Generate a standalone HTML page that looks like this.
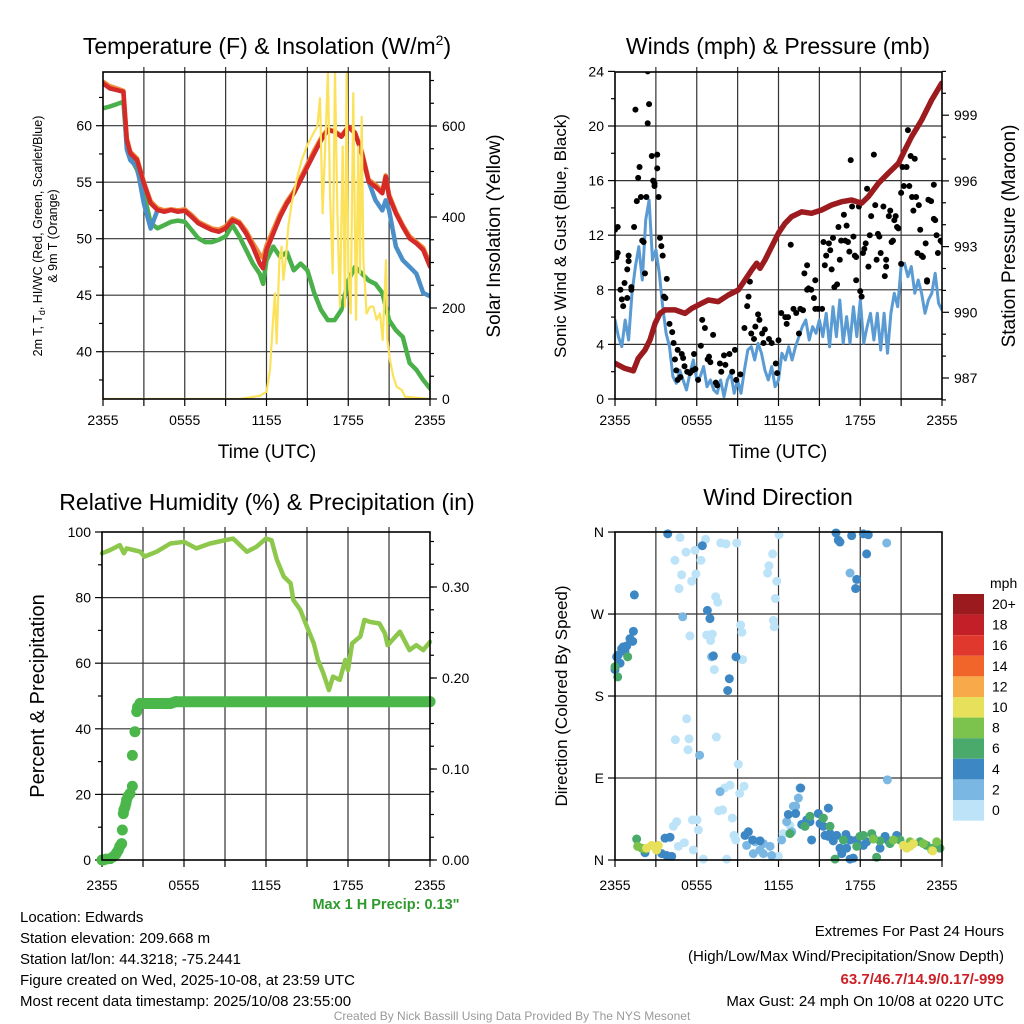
<!DOCTYPE html>
<html><head><meta charset="utf-8"><style>
html,body{margin:0;padding:0;background:#fff;}
svg{display:block;font-family:"Liberation Sans",sans-serif;}
</style></head><body>
<svg id="chart" width="1024" height="1024" viewBox="0 0 1024 1024" xmlns="http://www.w3.org/2000/svg">
<defs>
<clipPath id="c1"><rect x="103" y="72" width="327" height="327"/></clipPath>
<clipPath id="c2"><rect x="615" y="72" width="327" height="327"/></clipPath>
<clipPath id="c3"><rect x="96" y="526" width="340" height="340"/></clipPath>
<clipPath id="c4"><rect x="610" y="527" width="337" height="338"/></clipPath>
</defs>
<g id="root"></g>
<text x="267" y="54" font-size="23" text-anchor="middle">Temperature (F) &amp; Insolation (W/m<tspan font-size="14" dy="-9">2</tspan><tspan dy="9">)</tspan></text>
<text x="778" y="54" font-size="23" text-anchor="middle">Winds (mph) &amp; Pressure (mb)</text>
<text x="267" y="510" font-size="23" text-anchor="middle">Relative Humidity (%) &amp; Precipitation (in)</text>
<text x="778" y="505" font-size="23" text-anchor="middle">Wind Direction</text>
<text x="267" y="458" font-size="19" text-anchor="middle">Time (UTC)</text>
<text x="778" y="458" font-size="19" text-anchor="middle">Time (UTC)</text>
<text transform="translate(42,236) rotate(-90)" font-size="12.5" text-anchor="middle">2m T, T<tspan font-size="9" dy="3">d</tspan><tspan dy="-3">, HI/WC (Red, Green, Scarlet/Blue)</tspan></text>
<text transform="translate(57,236) rotate(-90)" font-size="12.5" text-anchor="middle">&amp; 9m T (Orange)</text>
<text transform="translate(500,236) rotate(-90)" font-size="19" text-anchor="middle">Solar Insolation (Yellow)</text>
<text transform="translate(566,236) rotate(-90)" font-size="17" text-anchor="middle">Sonic Wind &amp; Gust (Blue, Black)</text>
<text transform="translate(1015,236) rotate(-90)" font-size="19" text-anchor="middle">Station Pressure (Maroon)</text>
<text transform="translate(44,696) rotate(-90)" font-size="20" text-anchor="middle">Percent &amp; Precipitation</text>
<text transform="translate(567,696) rotate(-90)" font-size="17" text-anchor="middle">Direction (Colored By Speed)</text>
<text x="386" y="909" font-size="14.5" font-weight="bold" fill="#2e9a2e" text-anchor="middle">Max 1 H Precip: 0.13"</text>
<g font-size="15">
<text x="20" y="922">Location: Edwards</text>
<text x="20" y="943">Station elevation: 209.668 m</text>
<text x="20" y="964">Station lat/lon: 44.3218; -75.2441</text>
<text x="20" y="985">Figure created on Wed, 2025-10-08, at 23:59 UTC</text>
<text x="20" y="1006">Most recent data timestamp: 2025/10/08 23:55:00</text>
</g>
<g font-size="15" text-anchor="end">
<text x="1004" y="936">Extremes For Past 24 Hours</text>
<text x="1004" y="961">(High/Low/Max Wind/Precipitation/Snow Depth)</text>
<text x="1004" y="984" fill="#cc2027" font-weight="bold">63.7/46.7/14.9/0.17/-999</text>
<text x="1004" y="1006">Max Gust: 24 mph On 10/08 at 0220 UTC</text>
</g>
<text x="512" y="1020" font-size="12" fill="#999" text-anchor="middle">Created By Nick Bassill Using Data Provided By The NYS Mesonet</text>
</svg>
<script>
const tTemp=[0,0.5,1,1.5,1.75,2,2.5,3,3.5,4,4.5,5,5.5,6,6.5,7,7.5,8,8.5,9,9.5,10,10.5,11,11.5,11.75,12,12.5,13,13.5,14,14.5,15,15.5,16,16.5,17,17.5,18,18.5,19,19.5,20,20.5,20.75,21,21.5,22,22.5,23,23.5,24];
const tempRed=[63.75,63.31,63.16,63.0,58.73,57.56,56.96,54.90,53.13,52.54,52.39,52.54,52.39,52.48,51.95,51.36,51.06,50.77,50.62,50.92,51.65,51.36,50.48,49.29,47.82,47.38,49.0,50.48,51.95,53.13,54.02,55.19,56.37,57.56,58.73,59.62,59.47,59.03,59.91,59.33,57.56,55.05,54.6,54.02,55.49,53.72,52.24,51.06,50.03,49.58,49.0,47.53];
const temp9m=[63.9,63.5,63.3,63.1,58.9,57.7,57.1,55.0,53.3,52.7,52.5,52.6,52.5,52.6,52.1,51.5,51.2,50.9,50.8,51.1,51.8,51.5,50.7,49.6,48.6,48.3,49.4,50.8,52.2,53.3,54.2,55.4,56.6,57.8,58.9,59.7,59.5,59.1,59.9,59.4,57.7,55.2,54.8,54.2,55.6,53.9,52.4,51.2,50.2,49.7,49.2,47.8];
const dewGreen=[61.54,61.7,61.9,62.12,58.14,57.26,56.08,54.0,51.36,50.92,51.2,51.5,51.6,51.5,50.77,50.03,49.7,49.7,49.9,50.2,51.2,50.2,49.0,47.8,46.9,46.0,48.1,49.3,48.4,48.8,47.2,47.8,47.2,45.2,43.7,42.8,42.8,43.7,46.3,47.5,46.9,46.3,46.0,45.2,44.0,42.8,41.9,41.3,39.0,38.4,37.5,36.75];
const hiwcBlue=[63.75,63.31,63.16,63.0,57.9,56.96,56.37,53.1,50.9,52.54,52.39,52.54,52.39,52.48,51.95,51.36,51.06,50.77,50.62,50.92,51.65,51.36,50.48,49.29,47.82,47.38,49.0,50.48,51.95,53.13,54.02,55.19,56.37,57.56,58.73,59.62,59.47,59.03,59.91,59.33,57.56,55.05,53.4,52.5,53.4,52.5,49.3,48.1,47.5,46.9,45.2,44.9];
const tSolar=[0,10.06,11.52,12.01,12.26,12.45,12.62,12.75,12.94,13.11,13.24,13.43,13.60,13.85,14.21,14.58,14.95,15.44,15.73,15.93,16.12,16.37,16.51,16.66,16.86,17.03,17.20,17.39,17.59,17.76,17.88,18.01,18.18,18.37,18.57,18.74,18.86,18.99,19.11,19.35,19.60,19.84,20.09,20.33,20.53,20.77,20.87,21.06,21.31,21.55,21.92,22.17,24];
const solar=[0,0,7,16,64,159,232,122,305,335,262,313,379,430,481,525,555,584,599,661,408,599,719,452,276,719,408,203,555,203,716,276,188,672,174,555,276,620,305,188,203,203,174,188,130,305,130,86,49,27,20,5,0];
const tWind=[];for(let i=0;i<=96;i++)tWind.push(i/4);
const windSonic=[5.79,4.57,3.83,5.79,4.32,7.74,9.70,11.16,8.72,13.11,14.58,10.18,10.92,9.21,6.76,4.81,3.83,1.64,1.15,2.12,1.39,0.66,1.88,2.86,1.39,1.64,2.37,0.90,1.39,0.66,0.42,1.39,0.17,1.39,1.88,0.42,1.39,0.42,2.12,3.59,3.83,2.86,4.08,3.35,2.12,1.39,2.37,0.90,1.39,3.35,2.86,3.83,2.86,3.83,4.57,5.30,5.79,4.32,5.30,4.81,5.79,4.57,6.28,3.83,6.76,4.57,7.25,4.08,6.04,4.08,6.76,4.57,7.25,4.08,5.30,6.28,4.32,6.28,3.59,6.28,3.35,6.28,7.74,6.76,9.70,9.94,8.96,9.70,7.74,8.72,7.74,6.28,7.25,7.74,9.21,7.01,6.52];
const tGust=[0,0.2,0.1,0.2,0.4,0.5,0.6,0.7,0.9,0.9,1.0,1.0,1.2,1.2,1.4,1.6,1.7,1.8,1.9,2.0,2.1,2.2,2.3,2.4,2.5,2.4,1.5,2.7,2.8,2.9,2.9,3.1,3.1,3.2,3.3,3.4,3.5,3.6,3.7,3.8,4.0,4.2,4.3,4.4,4.5,4.6,4.8,4.9,5.1,5.3,5.5,5.7,5.8,6.1,6.4,6.6,6.9,7.0,7.2,7.7,7.8,8.4,8.6,8.8,8.9,9.5,9.7,9.8,9.9,10.0,10.2,10.3,10.5,10.6,10.8,10.9,11.0,11.3,11.5,11.8,11.9,12.0,12.2,12.5,12.6,12.7,12.9,13.1,13.3,13.5,13.6,13.8,13.9,14.1,14.1,14.2,14.4,14.6,14.7,14.7,14.9,15.2,15.3,15.4,15.5,15.7,15.8,15.9,16.0,16.1,16.3,16.4,16.5,16.6,16.8,16.9,17.0,17.1,17.2,17.3,17.4,17.5,17.6,17.7,17.7,17.9,18.0,18.1,18.2,18.3,18.4,18.5,18.6,18.7,18.8,19.0,19.1,19.2,19.3,19.4,19.5,19.7,19.8,19.9,19.9,20.1,20.2,20.3,20.4,20.5,20.6,20.7,20.8,21.0,21.0,21.1,21.2,21.4,21.5,21.6,21.7,21.8,21.9,22.0,22.1,22.2,22.3,22.4,22.5,22.6,22.8,22.9,22.9,23.0,23.2,23.4,23.4,23.5,23.6,23.7,23.9,24.0,5.0,5.9,6.3,7.4,8.1,9.2,4.6,6.8,7.5,8.0];
const gust=[12.4,12.6,10.4,10.7,8.0,7.3,6.8,8.5,7.4,9.5,10.1,10.5,8.0,8.2,12.6,14.5,16.2,17.0,14.8,11.6,11.5,9.2,14.8,20.2,21.6,24.0,21.2,17.8,16.0,15.6,15.8,16.9,17.9,14.8,11.8,11.2,10.5,7.5,7.4,8.8,5.5,4.9,4.1,2.9,2.1,1.4,1.6,3.3,2.4,2.0,1.9,2.1,3.3,1.4,5.8,5.2,3.1,2.7,4.7,2.6,2.0,3.3,2.0,3.6,1.4,5.2,6.8,7.5,8.6,4.8,4.4,5.3,6.2,5.8,4.8,4.1,5.1,4.4,4.1,2.6,1.9,4.3,6.3,6.0,5.5,6.0,11.3,6.6,6.3,4.8,6.6,6.5,9.2,9.8,8.0,8.1,8.0,7.4,6.6,8.7,6.6,6.6,11.5,9.8,10.5,11.4,10.9,9.5,11.8,8.2,8.4,12.6,10.2,11.6,13.5,11.6,12.7,11.5,10.8,17.5,14.1,11.9,10.5,8.7,10.4,14.1,7.9,7.5,10.7,11.0,11.4,15.4,9.7,12.0,13.4,17.9,14.2,10.2,12.1,11.9,10.7,14.1,9.0,10.2,9.7,13.4,13.8,11.5,11.6,13.1,13.4,12.6,12.5,9.9,15.1,17.0,15.6,17.0,19.7,15.6,17.8,14.8,13.8,17.6,14.8,10.7,14.2,12.4,10.5,10.4,11.4,8.7,8.6,14.6,14.5,13.2,15.7,13.1,12.0,10.7,11.6,11.5,3.0,2.2,3.9,1.2,2.5,1.8,3.6,2.9,1.0,3.2];
const tPres=[0,0.73,1.35,1.71,2.20,2.57,2.94,3.30,3.67,4.40,5.14,5.63,6.36,6.85,7.58,8.32,9.05,9.54,10.03,10.40,10.64,11.01,11.50,11.99,12.48,12.97,13.70,14.43,15.17,15.90,16.64,17.37,18.10,18.59,19.33,20.06,20.80,21.28,21.77,22.51,23.24,23.98];
const pressure=[987.67,987.44,987.33,987.90,988.28,988.74,989.50,989.95,990.11,990.11,989.95,990.18,990.41,990.56,990.49,990.79,991.02,991.47,991.93,992.24,992.01,992.39,993.0,993.61,994.06,994.37,994.59,994.52,994.67,994.90,995.05,995.13,994.98,995.28,995.89,996.35,996.80,997.41,998.02,998.78,999.69,1000.46];
const tRH=[0,0.6,1.3,1.6,1.8,2.3,2.8,3.1,4.0,5.0,6.0,6.9,7.9,8.9,9.6,10.6,11.3,12.0,12.4,12.8,13.3,13.8,14.0,14.5,15.0,15.5,15.8,16.2,16.6,16.9,17.4,17.8,18.0,18.3,18.6,18.9,19.2,19.6,20.3,20.7,20.9,21.8,22.5,23.0,23.5,24.0];
const rh=[93.5,94.5,96.0,93.5,95,94.5,94.0,92.5,94,96.5,97,95,96.5,97.4,98,94,95.5,98,97.5,91.5,86.4,84.4,79.3,76.3,71.1,66.0,61.0,56.9,51.8,55.9,54.9,61.0,57.9,66.0,67.1,68.1,73.2,72.6,72.1,69.1,65.5,69.6,64.0,65.5,64.0,66.5];
const tPrecip=[0,0.1,0.3,0.6,0.83,1.0,1.07,1.2,1.3,1.4,1.44,1.49,1.56,1.6,1.68,1.75,1.8,1.9,2.05,2.22,2.22,2.41,2.54,2.6,2.78,5.0,5.4,24];
const precip=[0,0,0.001,0.0015,0.0037,0.006,0.008,0.011,0.015,0.017,0.018,0.033,0.051,0.055,0.058,0.062,0.066,0.07,0.073,0.081,0.115,0.141,0.163,0.168,0.172,0.172,0.174,0.174];
const tDir=[4.77,4.40,5.21,5.87,6.65,6.31,4.89,5.94,5.63,4.70,7.76,8.15,8.93,7.39,7.54,5.50,6.73,7.14,7.02,7.29,9.22,9.32,9.37,11.57,11.30,11.20,11.87,11.77,11.62,11.69,12.04,5.26,4.43,5.43,5.36,7.44,9.05,9.47,8.44,8.05,9.15,7.61,7.90,8.61,5.68,6.02,4.53,4.28,8.73,8.86,6.12,5.09,4.65,5.75,8.2,6.48,12.35,12.84,11.99,
4.97,7.09,6.21,7.71,9.66,10.15,10.89,11.38,11.50,12.23,13.09,13.26,12.60,12.97,13.46,13.58,10.64,10.28,17.25,19.94,19.99,10.89,
3.87,6.41,6.78,6.97,7.22,8.88,8.39,8.27,0.0,0.37,0.12,0.49,0.61,0.86,1.10,1.30,0.24,0.73,16.22,16.39,16.51,17.37,18.23,18.59,18.47,17.74,17.66,13.63,12.72,13.26,13.70,14.31,14.92,15.05,15.29,15.66,15.78,16.27,16.95,17.25,17.00,17.74,18.23,18.47,18.96,19.45,19.82,20.67,20.06,9.79,10.10,10.64,9.54,3.67,4.04,3.79,4.16,3.43,2.20,16.51,16.64,14.43,13.94,14.07,15.41,15.66,16.02,17.25,17.49,
1.42,1.35,0.93,0.20,0.0,12.84,13.94,14.31,15.29,15.78,16.15,17.74,17.98,18.23,18.84,19.20,19.45,20.18,20.92,22.39,22.87,23.36,23.85,2.20,3.06,
1.59,16.76,18.96,20.43,21.65,22.63,23.61,23.24,
1.66,1.96,2.69,3.06,3.18,21.16,21.41,21.90,23.31,21.65,
2.32];
const dirDeg=[354,329,338,340,352,329,313,314,306,298,348,347,348,289,283,246,247,248,241,209,258,250,220,336,323,315,306,287,263,256,357,155,132,133,121,135,105,81,82,79,73,54,55,46,44,44,42,37,27,22,33,19,15,11,1,1,29,38,4,
267,223,115,75,16,7,7,15,5,22,59,59,42,31,68,79,11,20,315,348,88,18,
358,345,274,265,224,223,199,186,209,216,223,232,234,235,243,240,225,229,359,351,349,356,358,357,336,308,298,79,50,51,39,42,51,40,37,57,29,27,28,22,13,22,16,20,24,13,26,27,21,31,22,21,27,24,25,5,4,7,8,13,7,22,37,44,27,26,21,1,2,
291,251,223,201,212,29,37,48,46,37,1,15,26,27,29,3,21,18,22,20,16,13,13,11,11,
23,22,23,22,20,18,20,11,
15,13,16,11,16,16,13,18,10,15,
13];
const dirSpeed=[1,1,1,1,1,1,1,1,1,1,1,1,1,1,1,1,1,1,1,1,1,1,1,1,1,1,1,1,1,1,1,1,1,1,1,1,1,1,1,1,1,1,1,1,1,1,1,1,1,1,1,1,1,1,1,1,1,1,1,
3,3,3,3,3,3,3,3,3,3,3,3,3,3,3,3,3,3,3,3,3,3,
5,5,5,5,5,5,5,5,5,5,5,5,5,5,5,5,5,5,5,5,5,5,5,5,5,5,5,5,5,5,5,5,5,5,5,5,5,5,5,5,5,5,5,5,5,5,5,5,5,5,5,5,5,5,5,5,5,5,5,5,5,5,5,5,5,5,5,5,5,5,5,
7,7,7,7,7,7,7,7,7,7,7,7,7,7,7,7,7,7,7,7,7,7,7,7,7,
9,9,9,9,9,9,9,9,
11,11,11,11,11,11,11,11,11,11,
15];
const xTickLabels=["2355","0555","1155","1755","2355"];
const legendLabels=["20+","18","16","14","12","10","8","6","4","2","0"];
const legendColors=["#9a1a1d","#c21f28","#e0382c","#f1652b","#f8a94a","#e6e05b","#7cc34d","#4aaa6b","#3d87c4","#7bb7e3","#bce3f7"];

const NS="http://www.w3.org/2000/svg";
const root=document.getElementById('root');
function mk(tag,attrs,parent){const e=document.createElementNS(NS,tag);for(const k in attrs)e.setAttribute(k,attrs[k]);(parent||root).appendChild(e);return e;}
function speedColor(s){const i=Math.min(10,Math.max(0,10-Math.floor(s/2)));return legendColors[i];}

const P1={x0:103,x1:430,y0:72,y1:399,lab:425},P2={x0:615,x1:942,y0:72,y1:399,lab:425},P3={x0:102,x1:430,y0:532,y1:860,lab:890},P4={x0:615,x1:942,y0:532,y1:860,lab:890};
function tx(P,t){return P.x0+t/24*(P.x1-P.x0);}
const tempY=v=>125.7+(60-v)*11.3, solY=w=>399-w*0.455;
const windY=w=>399-w*13.65, presY=p=>378-(p-987)*21.9;
const rhY=v=>860-v*3.28, prY=p=>860-p*910;
const dirY=d=>860-d*0.911;

function frame(P,name,hLines,leftTicks,rightTicks){
  const g=mk('g',{});
  
  
  for(let h=3;h<24;h+=3){const x=tx(P,h);const l=mk('line',{x1:x,x2:x,y1:P.y0-5,y2:P.y1,stroke:'#333','stroke-width':1.2},g);}
  hLines.forEach(y=>{const l=mk('line',{x1:P.x0,x2:P.x1,y1:y,y2:y,stroke:'#333','stroke-width':1.2},g);});
  for(let h=0;h<=24;h+=3){const x=tx(P,h);mk('line',{x1:x,x2:x,y1:P.y1,y2:P.y1+7,stroke:'#000','stroke-width':1.2},g);}
  xTickLabels.forEach((s,i)=>{const t=mk('text',{x:tx(P,i*6),y:P.lab,'font-size':14,'text-anchor':'middle'},g);t.textContent=s;});
  leftTicks.forEach(([y,lab])=>{if(y<P.y0-1.5||y>P.y1+1.5)return;mk('line',{x1:P.x0-(lab?7:4),x2:P.x0,y1:y,y2:y,stroke:'#000','stroke-width':1.2},g);if(lab){const t=mk('text',{x:P.x0-11,y:y+5,'font-size':14,'text-anchor':'end'},g);t.textContent=lab;}});
  rightTicks.forEach(([y,lab])=>{if(y<P.y0-1.5||y>P.y1+1.5)return;mk('line',{x1:P.x1,x2:P.x1+(lab?7:4),y1:y,y2:y,stroke:'#000','stroke-width':1.2},g);if(lab){const t=mk('text',{x:P.x1+12,y:y+5,'font-size':14},g);t.textContent=lab;}});
  return g;
}
function border(P,name){const r=mk('rect',{x:P.x0,y:P.y0,width:P.x1-P.x0,height:P.y1-P.y0,fill:'none',stroke:'#000','stroke-width':1.6});}
function line(P,clip,ts,vs,fy,color,w,name){const d=ts.map((t,i)=>(i?'L':'M')+tx(P,t).toFixed(1)+','+fy(vs[i]).toFixed(1)).join('');const p=mk('path',{d:d,fill:'none',stroke:color,'stroke-width':w,'stroke-linejoin':'round','stroke-linecap':'round','clip-path':'url(#'+clip+')'});return p;}

{const lt=[],rt=[],hl=[];
 for(let v=37.5;v<=65;v+=2.5){const lab=(v%5===0)?String(v):'';if(tempY(v)<P1.y0)continue;lt.push([tempY(v),lab]);if(lab)hl.push(tempY(v));}
 for(let w=0;w<=700;w+=50){rt.push([solY(w),w%200===0?String(w):'']);}
 frame(P1,'temperature',hl,lt,rt);
 line(P1,'c1',tTemp,dewGreen,tempY,'#49b04a',4.5,'dewpoint-line');
 line(P1,'c1',tTemp,hiwcBlue,tempY,'#4a8fc8',4.5,'heat-index-windchill-line');
 line(P1,'c1',tTemp,temp9m,tempY,'#f08a3a',4.5,'temperature-9m-line');
 line(P1,'c1',tTemp,tempRed,tempY,'#d52a27',4.5,'temperature-2m-line');
 line(P1,'c1',tSolar,solar,solY,'#fbe25a',2.2,'solar-insolation-line');
 border(P1,'temperature');}

{const lt=[],rt=[],hl=[];
 for(let w=0;w<=24;w+=2){const lab=w%4===0?String(w):'';lt.push([windY(w),lab]);if(lab&&w>0&&w<24)hl.push(windY(w));}
 for(let p=986;p<=1001;p++){rt.push([presY(p),(p-987)%3===0?String(p):'']);}
 frame(P2,'winds',hl,lt,rt);
 line(P2,'c2',tWind,windSonic,windY,'#5a9bd4',3,'sonic-wind-line');
 const g=mk('g',{'clip-path':'url(#c2)'});
 tGust.forEach((t,i)=>{const c=mk('circle',{cx:tx(P2,t),cy:windY(gust[i]),r:3,fill:'#000'},g);});
 line(P2,'c2',tPres,pressure,presY,'#9b1b1e',5.5,'pressure-line');
 border(P2,'winds');}

{const lt=[],rt=[],hl=[];
 for(let v=0;v<=100;v+=10){const lab=v%20===0?String(v):'';lt.push([rhY(v),lab]);if(lab&&v>0&&v<100)hl.push(rhY(v));}
 for(let p=0;p<=0.36;p+=0.025){rt.push([prY(p),'']);}
 [0,0.1,0.2,0.3].forEach(p=>rt.push([prY(p),p.toFixed(2)]));
 frame(P3,'humidity',hl,lt,rt);
 line(P3,'c3',tRH,rh,rhY,'#8dc84c',4.5,'relative-humidity-line');
 const flatT=[],flatV=[];tPrecip.forEach((t,i)=>{if(precip[i]>=0.17){flatT.push(t);flatV.push(precip[i]);}});
 line(P3,'c3',flatT,flatV,prY,'#4bb74b',11,'precip-accum-trace');
 const g=mk('g',{'clip-path':'url(#c3)'});
 tPrecip.forEach((t,i)=>{const c=mk('circle',{cx:tx(P3,t),cy:prY(precip[i]),r:5.5,fill:'#4bb74b'},g);});
 border(P3,'humidity');}

{const lt=[],hl=[];const labs=['N','E','S','W','N'];
 labs.forEach((s,i)=>{lt.push([dirY(i*90),s]);if(i>0&&i<4)hl.push(dirY(i*90));});
 frame(P4,'wind-direction',hl,lt,[]);
 const g=mk('g',{'clip-path':'url(#c4)'});
 tDir.forEach((t,i)=>{const c=mk('circle',{cx:tx(P4,t),cy:dirY(dirDeg[i]),r:4.5,fill:speedColor(dirSpeed[i])},g);});
 border(P4,'wind-direction');
 const lg=mk('g',{});
 const tt=mk('text',{x:990,y:588,'font-size':14},lg);tt.textContent='mph';
 legendLabels.forEach((s,i)=>{const y=594+i*20.6;const r=mk('rect',{x:953,y:y,width:31,height:20.6,fill:legendColors[i]},lg);const t=mk('text',{x:992,y:y+15,'font-size':14},lg);t.textContent=s;});
}
</script>
</body></html>
